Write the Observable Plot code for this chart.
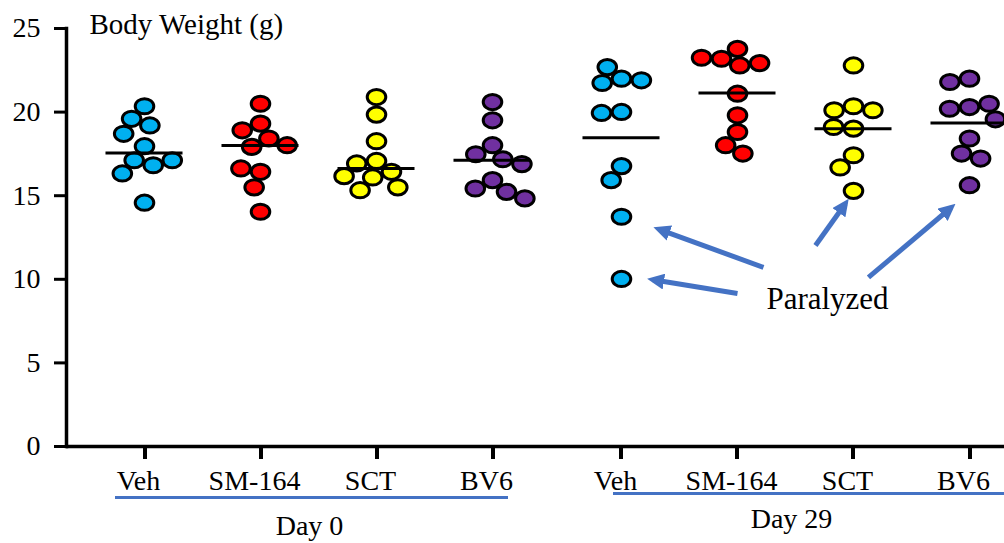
<!DOCTYPE html>
<html>
<head>
<meta charset="utf-8">
<script src="https://cdn.jsdelivr.net/npm/d3@7"></script>
<script src="https://cdn.jsdelivr.net/npm/@observablehq/plot@0.6"></script>
<style>
  html, body { margin: 0; padding: 0; background: #fff; overflow: hidden; }
  #chart svg { display: block; }
</style>
</head>
<body>
<div id="chart"></div>
<script>
// ---------- data ----------
const treatments = ["Veh", "SM-164", "SCT", "BV6"];
const days = ["Day 0", "Day 29"];
const yTicks = [0, 5, 10, 15, 20, 25];

const day0Veh   = [20.35, 19.6, 19.2, 18.7, 17.96, 17.12, 16.82, 17.12, 16.33, 14.58];
const day0SM164 = [20.5, 19.31, 18.91, 18.42, 17.92, 18.02, 16.43, 16.63, 15.5, 14.04];
const day0SCT   = [20.9, 19.85, 18.26, 17.08, 16.93, 16.43, 16.09, 16.17, 15.5, 15.33];
const day0BV6   = [20.6, 19.51, 18.02, 17.48, 17.18, 16.89, 15.93, 15.43, 15.23, 14.84];

const day29Veh   = [22.0, 21.74, 21.9, 22.69, 20.01, 19.95, 16.77, 15.93, 13.74, 10.02];
const day29SM164 = [23.78, 23.19, 22.79, 22.93, 23.25, 21.1, 19.81, 18.81, 18.02, 17.52];
const day29SCT   = [22.79, 20.35, 20.11, 20.11, 19.01, 19.11, 17.42, 16.69, 15.29];
const day29BV6   = [22.0, 21.8, 20.3, 20.2, 20.5, 19.57, 18.42, 17.52, 17.22, 15.63];

// group mean lines (as drawn)
const day0Mean  = [17.55, 18.0, 16.63, 17.12];
const day29Mean = [18.46, 21.14, 19.01, 19.35];

// "Paralyzed" annotation (data units)
const paralyzedLabel = [{text: "Paralyzed", x: 5.888, y: 8.79}];
const arrowX1 = [5.336, 5.112, 5.784, 6.241];
const arrowY1 = [10.71, 9.15, 12.02, 10.11];
const arrowX2 = [4.436, 4.384, 6.041, 6.952];
const arrowY2 = [12.99, 9.97, 14.52, 14.28];

// ---------- build tables ----------
const groupValues = [[day0Veh, day0SM164, day0SCT, day0BV6], [day29Veh, day29SM164, day29SCT, day29BV6]];
const groupMeans = [day0Mean, day29Mean];
const dayGap = 0.112; // extra spacing between the two day blocks (in category steps)
const pos = (day, t) => days.indexOf(day) * (treatments.length + dayGap) + treatments.indexOf(t);
const dayCenter = (day) => days.indexOf(day) * (treatments.length + dayGap) + (treatments.length - 1) / 2;

const rows = [];
const groups = [];
days.forEach((day, di) => treatments.forEach((t, ti) => {
  groups.push({day, treatment: t, pos: pos(day, t), mean: groupMeans[di][ti]});
  for (const v of groupValues[di][ti]) rows.push({day, treatment: t, value: v});
}));
const arrows = arrowX1.map((_, i) => ({x1: arrowX1[i], y1: arrowY1[i], x2: arrowX2[i], y2: arrowY2[i]}));
const lastPos = pos(days[days.length - 1], treatments[treatments.length - 1]);

// ---------- helpers ----------
const ellipse = {
  draw(ctx, size) {
    const r = Math.sqrt(size / Math.PI), rx = r * 1.1, ry = r * 0.9, k = 0.5523;
    ctx.moveTo(rx, 0);
    ctx.bezierCurveTo(rx, k * ry, k * rx, ry, 0, ry);
    ctx.bezierCurveTo(-k * rx, ry, -rx, k * ry, -rx, 0);
    ctx.bezierCurveTo(-rx, -k * ry, -k * rx, -ry, 0, -ry);
    ctx.bezierCurveTo(k * rx, -ry, rx, -k * ry, rx, 0);
    ctx.closePath();
  }
};

// beeswarm-style dodge around each category centre (pixel space)
function swarm(options, D = 20, aspect = 1.22) {
  return Plot.initializer(options, (data, facets, channels, scales) => {
    const X = Array.from(channels.x.value, (v) => scales.x(v));
    const Y = Array.from(channels.y.value, (v) => scales.y(v));
    for (const I of facets) {
      const byX = d3.group(I, (i) => X[i]);
      for (const [cx, idx] of byX) {
        const placed = [];
        for (const i of idx) {
          const cands = [0];
          for (const j of placed) {
            const dy = (Y[i] - Y[j]) * aspect;
            if (Math.abs(dy) < D) {
              const w = Math.sqrt(D * D - dy * dy);
              cands.push(X[j] - cx + w, X[j] - cx - w);
            }
          }
          cands.sort((a, b) => Math.abs(a) - Math.abs(b) || a - b);
          const ok = cands.find((c) => placed.every((j) => {
            const dx = cx + c - X[j], dy = (Y[i] - Y[j]) * aspect;
            return dx * dx + dy * dy >= D * D - 1e-6;
          }));
          X[i] = cx + (ok ?? 0);
          placed.push(i);
        }
      }
    }
    return {data, facets, channels: {x: {value: X}, y: {value: Y}}};
  });
}

function arrowHead(color) {
  const m = d3.create("svg:marker")
    .attr("viewBox", "0 -8 17 16")
    .attr("markerWidth", 17)
    .attr("markerHeight", 16)
    .attr("markerUnits", "userSpaceOnUse")
    .attr("refX", 11)
    .attr("refY", 0)
    .attr("orient", "auto");
  m.append("path").attr("d", "M0,-8L17,0L0,8Z").attr("fill", color).attr("stroke", "none");
  return m.node();
}

// downward x-axis tick drawn as a marker
function tickMarker(color) {
  const m = d3.create("svg:marker")
    .attr("viewBox", "-2 0 4 12")
    .attr("markerWidth", 4)
    .attr("markerHeight", 12)
    .attr("markerUnits", "userSpaceOnUse")
    .attr("refX", 0)
    .attr("refY", 0)
    .attr("orient", 0);
  m.append("rect").attr("x", -1.5).attr("y", 0).attr("width", 3).attr("height", 12).attr("fill", color);
  return m.node();
}

const blue = "#4472C4";
const serif = "'Liberation Serif', 'Times New Roman', serif";

const plot = Plot.plot({
  width: 1004,
  height: 543,
  marginTop: 28,
  marginRight: 0,
  marginBottom: 97,
  marginLeft: 66,
  style: {fontFamily: serif, fontSize: "28px", color: "black", background: "white"},
  x: {domain: [0, lastPos], insetLeft: 78, insetRight: 35, axis: null},
  y: {domain: [0, 25], axis: null},
  color: {domain: treatments, range: ["#00B0F0", "#FF0000", "#FFFF00", "#7030A0"]},
  marks: [
    Plot.frame({anchor: "left", strokeWidth: 3.5}),
    Plot.ruleY([0], {strokeWidth: 3.5}),
    Plot.axisY({ticks: yTicks, tickSize: 12, tickPadding: 14, strokeWidth: 3, fontSize: 28, label: null}),
    // x ticks and category labels
    Plot.link(groups, {x1: "pos", x2: "pos", y1: () => 0, y2: () => 0, stroke: "black", strokeWidth: 3, markerEnd: tickMarker}),
    Plot.text(groups, {x: "pos", text: "treatment", frameAnchor: "bottom", lineAnchor: "middle", dy: 35, dx: -6, fontSize: 28}),
    // day underlines
    Plot.ruleY(["Day 0"], {y: () => 0, x1: (d) => pos(d, treatments[0]), x2: (d) => pos(d, treatments[3]),
      insetLeft: -29, insetRight: -16, dy: 51, stroke: blue, strokeWidth: 3}),
    Plot.ruleY(["Day 29"], {y: () => 0, x1: (d) => pos(d, treatments[0]), x2: (d) => pos(d, treatments[3]),
      insetLeft: -8, insetRight: -40, dy: 47, stroke: blue, strokeWidth: 3}),
    // day labels
    Plot.text(["Day 0"], {x: dayCenter, text: (d) => d, frameAnchor: "bottom", lineAnchor: "middle", dy: 80, dx: -9, fontSize: 28}),
    Plot.text(["Day 29"], {x: dayCenter, text: (d) => d, frameAnchor: "bottom", lineAnchor: "middle", dy: 73, dx: -4, fontSize: 28}),
    // y title
    Plot.text(["Body Weight (g)"], {frameAnchor: "top-left", lineAnchor: "middle", text: (d) => d, textAnchor: "start", dx: 23, dy: -4, fontSize: 29}),
    // data points
    Plot.dot(rows, swarm({
      x: (d) => pos(d.day, d.treatment), y: "value", fill: "treatment",
      stroke: "black", strokeWidth: 3, r: 8.45, symbol: ellipse
    })),
    // mean lines
    Plot.ruleY(groups, {y: "mean", x1: (d) => d.pos - 0.332, x2: (d) => d.pos + 0.332, stroke: "black", strokeWidth: 3}),
    // annotation
    Plot.link(arrows, {x1: "x1", y1: "y1", x2: "x2", y2: "y2", stroke: blue, strokeWidth: 5, markerEnd: arrowHead}),
    Plot.text(paralyzedLabel, {x: "x", y: "y", text: "text", fontSize: 31})
  ]
});

document.getElementById("chart").append(plot);
</script>
</body>
</html>
